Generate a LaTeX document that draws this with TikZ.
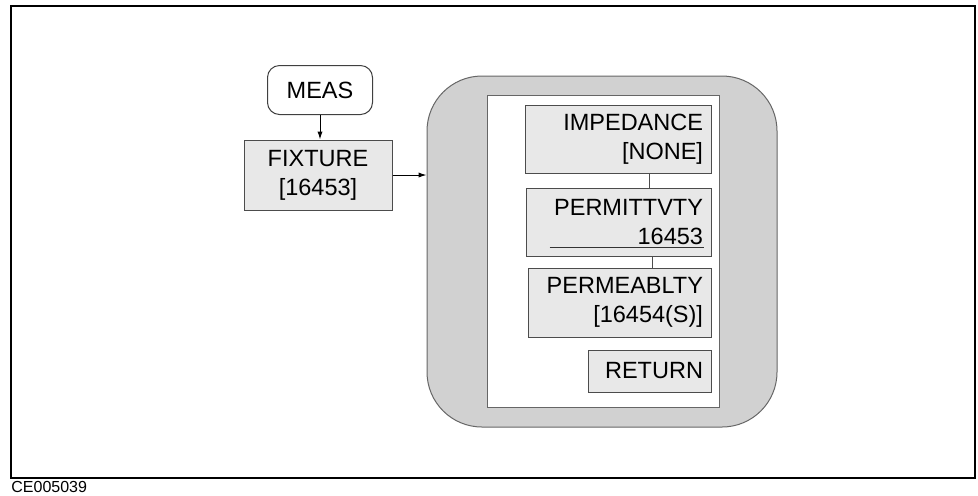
\documentclass[tikz,border=0pt]{standalone}
\usepackage{fontspec}
\setmainfont{Liberation Sans}
\usetikzlibrary{arrows.meta,positioning,calc}

\begin{document}
\begin{tikzpicture}[
  x=0.5pt, y=-0.5pt,
  key/.style={draw=black!70, line width=0.5pt, fill=black!9, inner sep=4pt, font=\fontsize{11.75}{14.5}\selectfont},
  softkey/.style={key, align=right},
  hardkey/.style={draw=black!75, line width=0.5pt, rounded corners=6pt, fill=white, align=center, font=\fontsize{11.75}{14.5}\selectfont},
  menu/.style={draw=black!60, line width=0.5pt, fill=black!18, rounded corners=27.5pt},
  arr/.style={-{Latex[length=4pt,width=2.6pt]}, line width=0.5pt},
  link/.style={draw=black!70, line width=0.5pt}
]
\useasboundingbox (0,0) rectangle (978,495);
\draw[line width=1.2pt] (11,6) rectangle (975,478);

\node[hardkey, minimum width=52.5pt, minimum height=24.5pt] (meas) at (320,90) {MEAS};
\node[key, align=center, minimum width=74pt, minimum height=35pt] (fixture) at (318,175) {FIXTURE\\{}[16453]};

\node[menu, minimum width=175pt, minimum height=175.5pt] (panel) at (602,251.5) {};
\node[draw=black!60, line width=0.5pt, fill=white, minimum width=116pt, minimum height=156pt] (list) at (603,251) {};

\node[softkey, text width=85pt, minimum height=34pt] (imped) at (618,139) {IMPEDANCE\\{}[NONE]};
\node[softkey, text width=84.5pt, minimum height=34pt] (permit) at (618.5,222) {PERMITTVTY\\16453};
\node[softkey, text width=83.5pt, minimum height=34.5pt] (permea) at (619.5,302.5) {PERMEABLTY\\{}[16454(S)]};
\node[softkey, text width=53.5pt, minimum height=21pt] (ret) at (649.5,371) {RETURN};

\node[anchor=west, inner sep=0pt, font=\fontsize{8}{9}\selectfont] (tag) at (11,487) {CE005039};

\draw[arr] (meas.south) -- (meas.south |- fixture.north);
\draw[arr] (fixture.east) -- (fixture.east -| panel.west);
\draw[link] ([xshift=15.5pt]imped.south) -- ([xshift=15.5pt]imped.south |- permit.north);
\draw[link] ([xshift=17pt]permit.south) -- ([xshift=17pt]permit.south |- permea.north);
\draw[black!80, line width=0.4pt] ([shift={(24,-9)}]permit.south west) -- ([shift={(-8,-9)}]permit.south east);
\end{tikzpicture}
\end{document}
